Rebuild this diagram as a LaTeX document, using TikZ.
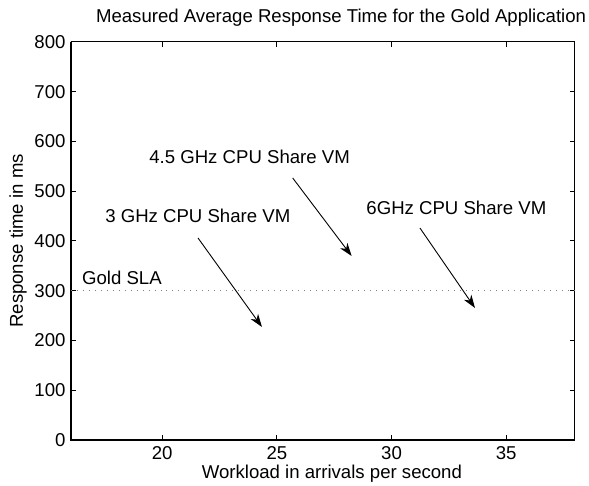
\documentclass[tikz,border=0pt]{standalone}
\usepackage{fontspec}
\setmainfont{Liberation Sans}
\usetikzlibrary{arrows.meta}

\begin{document}
\begin{tikzpicture}[x=11.466pt,y=0.24875pt,
    every node/.style={font=\fontsize{9.3}{11}\selectfont},
    notetext/.style={anchor=west,inner sep=0pt},
    pointer/.style={-{Stealth[length=6.5pt,width=4.5pt,inset=2pt]},line width=0.45pt},
    slaline/.style={gray,line width=0.5pt,dash pattern=on 0.5pt off 2.5pt}]
				\useasboundingbox (12.925,-92.46) rectangle (38.613,884.4);
				%
				% macro: name, text position, text, arrow tail, arrow tip
				\newcommand{\vmnote}[5]{
				  \node[notetext] (#1) at (#2) {#3};
				  \coordinate (#1tail) at (#4);
				  \coordinate (#1tip) at (#5);
				  \draw[pointer] (#1tail) -- (#1tip);
				}
				%
				% frame and ticks
				\draw[line width=0.5pt] (16,800) -- (38,800) -- (38,0);
				\foreach \t in {0,100,...,800} {
				  \draw[line width=0.5pt] (16,\t) -- ++(2.6pt,0);
				  \draw[line width=0.5pt] (38,\t) -- ++(-2.6pt,0);
				  \node[anchor=east,inner sep=0pt] (ylab\t) at (15.8,\t) {\t};
				}
				\foreach \w in {20,25,30,35} {
				  \draw[line width=0.5pt] (\w,0) -- ++(0,2.6pt);
				  \draw[line width=0.5pt] (\w,800) -- ++(0,-2.6pt);
				  \node[inner sep=0pt] (xlab\w) at (\w,-26) {\w};
				}
				\draw[line width=1pt] (16,800) -- (16,0) -- (38,0);
				%
				% SLA level
				\draw[slaline] (16,300) -- (38,300);
				\node[notetext] (sla) at (16.49,325.6) {Gold SLA};
				%
				\vmnote{low}{17.5,450.3}{3 GHz CPU Share VM}{21.56,406}{24.35,227}
				\vmnote{mid}{19.42,568.8}{4.5 GHz CPU Share VM}{25.69,526.6}{28.26,369.8}
				\vmnote{high}{28.89,466.3}{6GHz CPU Share VM}{31.24,426}{33.64,265.3}
				%
				\node (title) at (27.8,848) {Measured Average Response Time for the Gold Application};
				\node (xaxis) at (27.4,-68.3) {Workload in arrivals per second};
				\node[rotate=90] (yaxis) at (13.71,400) {Response time in ms};
			\end{tikzpicture}
\end{document}
